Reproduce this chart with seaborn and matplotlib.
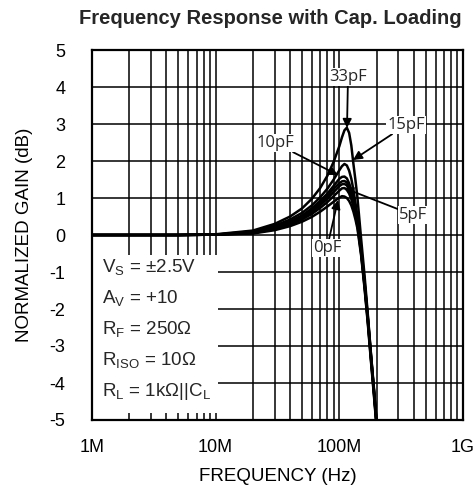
import numpy as np
import pandas as pd
import matplotlib
matplotlib.use("Agg")
import matplotlib.pyplot as plt
import seaborn as sns
from matplotlib.ticker import LogLocator, NullFormatter, FixedLocator

# ---- data ----
freq_mhz = [1, 5, 10, 20, 30, 40, 50, 60, 70, 80, 90, 100, 105, 110, 115,
            120, 125, 130, 135, 140, 150, 160, 170, 180, 190, 200, 210]

gain_0pF = [0, 0, 0.01, 0.04, 0.13, 0.24, 0.36, 0.49, 0.63, 0.77, 0.90, 1.01, 1.05, 1.04, 1.00,
            0.92, 0.80, 0.63, 0.42, 0.18, -0.55, -1.45, -2.40, -3.40, -4.30, -5.20, -6.0]
gain_2pF = [0, 0, 0.01, 0.05, 0.16, 0.28, 0.42, 0.57, 0.73, 0.89, 1.05, 1.20, 1.26, 1.27, 1.22,
            1.12, 0.97, 0.77, 0.52, 0.25, -0.50, -1.40, -2.35, -3.35, -4.25, -5.15, -6.0]
gain_5pF = [0, 0, 0.01, 0.06, 0.18, 0.31, 0.46, 0.62, 0.80, 0.98, 1.16, 1.32, 1.37, 1.38, 1.34,
            1.23, 1.07, 0.86, 0.60, 0.32, -0.45, -1.35, -2.30, -3.30, -4.20, -5.10, -6.0]
gain_7pF = [0, 0, 0.01, 0.07, 0.20, 0.34, 0.50, 0.67, 0.86, 1.05, 1.25, 1.40, 1.45, 1.46, 1.42,
            1.31, 1.14, 0.92, 0.65, 0.36, -0.42, -1.32, -2.27, -3.27, -4.17, -5.07, -6.0]
gain_10pF = [0, 0, 0.01, 0.08, 0.22, 0.37, 0.53, 0.72, 0.92, 1.12, 1.33, 1.52, 1.57, 1.58, 1.53,
             1.40, 1.22, 0.98, 0.70, 0.40, -0.40, -1.30, -2.25, -3.25, -4.15, -5.05, -6.0]
gain_15pF = [0, 0, 0.01, 0.10, 0.25, 0.42, 0.60, 0.80, 1.02, 1.25, 1.50, 1.75, 1.86, 1.92, 1.88,
             1.74, 1.52, 1.22, 0.87, 0.52, -0.35, -1.25, -2.20, -3.20, -4.10, -5.00, -6.0]
gain_33pF = [0, 0, 0.02, 0.12, 0.30, 0.50, 0.72, 0.98, 1.27, 1.60, 1.98, 2.40, 2.64, 2.83, 2.90,
             2.76, 2.42, 1.92, 1.48, 1.02, -0.10, -1.10, -2.15, -3.20, -4.15, -5.10, -6.0]

series = {"0pF": gain_0pF, "2pF": gain_2pF, "5pF": gain_5pF, "7pF": gain_7pF,
          "10pF": gain_10pF, "15pF": gain_15pF, "33pF": gain_33pF}

x_ticks = [1e6, 1e7, 1e8, 1e9]
x_tick_labels = ["1M", "10M", "100M", "1G"]
y_ticks = list(range(-5, 6))

conditions = [r"V$_\mathrm{S}$ = ±2.5V", r"A$_\mathrm{V}$ = +10", r"R$_\mathrm{F}$ = 250Ω",
              r"R$_\mathrm{ISO}$ = 10Ω", r"R$_\mathrm{L}$ = 1kΩ||C$_\mathrm{L}$"]

rows = []
for name, vals in series.items():
    for f, g in zip(freq_mhz, vals):
        rows.append({"freq": f * 1e6, "gain": g, "CL": name})
df = pd.DataFrame(rows)

# ---- styling ----
sns.set_theme(style="white")
plt.rcParams["font.family"] = ["Liberation Sans", "DejaVu Sans"]
plt.rcParams["mathtext.fontset"] = "custom"
plt.rcParams["mathtext.rm"] = "Liberation Sans"
plt.rcParams["mathtext.it"] = "Liberation Sans"

fig = plt.figure(figsize=(4.77, 4.91), dpi=100)
ax = fig.add_axes([92 / 477, 1 - 420 / 491, (463 - 92) / 477, (420 - 50) / 491])

sns.lineplot(data=df, x="freq", y="gain", hue="CL", palette=["black"] * len(series),
             linewidth=1.8, legend=False, ax=ax, sort=False, zorder=3)

ax.set_xscale("log")
ax.set_xlim(1e6, 1e9)
ax.set_ylim(-5, 5)
ax.xaxis.set_major_locator(FixedLocator(x_ticks))
ax.set_xticklabels(x_tick_labels)
ax.xaxis.set_minor_locator(LogLocator(base=10, subs=np.arange(2, 10)))
ax.xaxis.set_minor_formatter(NullFormatter())
ax.set_yticks(y_ticks)
ax.set_yticklabels([str(v) for v in y_ticks])
ax.grid(True, which="both", axis="x", color="black", linewidth=1.1)
ax.grid(True, which="major", axis="y", color="black", linewidth=1.1)
ax.set_axisbelow(True)
ax.tick_params(axis="both", which="both", length=0, labelsize=13, colors="black")
ax.tick_params(axis="y", pad=19)
ax.tick_params(axis="x", pad=14)
for s in ax.spines.values():
    s.set_color("black")
    s.set_linewidth(1.6)

ax.set_xlabel("FREQUENCY (Hz)", fontsize=13.5, labelpad=8, color="black")
ax.set_ylabel("NORMALIZED GAIN (dB)", fontsize=13.5, labelpad=12, color="black")
fig.text(270 / 477, 1 - 18 / 491, "Frequency Response with Cap. Loading",
         fontsize=14.5, fontweight="bold", ha="center", va="center")

# condition box
ax.add_patch(plt.Rectangle((0, 0.02), (218 - 92) / 371, (413 - 255) / 370,
                           transform=ax.transAxes, facecolor="white", edgecolor="none", zorder=2))
cond_y = [267, 298, 329, 360, 392]
for txt, yp in zip(conditions, cond_y):
    ax.text(10 / 371, (420 - yp) / 370, txt, transform=ax.transAxes, fontsize=13.5,
            ha="left", va="center", zorder=4)

# annotations
lab_font = dict(fontsize=12, family=["Open Sans", "DejaVu Sans"], zorder=5,
                bbox=dict(facecolor="white", edgecolor="none", pad=0.8))
arrow = dict(arrowstyle="-|>", color="black", lw=1.3, mutation_scale=13, shrinkA=0, shrinkB=0)

def px(x, y):
    return (x - 92) / 371, (420 - y) / 370

ax.annotate("33pF", xy=px(347, 128), xytext=px(348, 77), textcoords="axes fraction",
            xycoords="axes fraction", ha="center", va="center", arrowprops=arrow, **lab_font)
ax.annotate("15pF", xy=px(353, 160), xytext=px(406, 125), textcoords="axes fraction",
            xycoords="axes fraction", ha="center", va="center", arrowprops=arrow, **lab_font)
ax.annotate("10pF", xy=px(338, 175), xytext=px(275, 143), textcoords="axes fraction",
            xycoords="axes fraction", ha="center", va="center", arrowprops=arrow, **lab_font)
ax.annotate("5pF", xy=px(344, 188), xytext=px(413, 215), textcoords="axes fraction",
            xycoords="axes fraction", ha="center", va="center", arrowprops=arrow, **lab_font)
ax.annotate("0pF", xy=px(338, 200), xytext=px(327, 248), textcoords="axes fraction",
            xycoords="axes fraction", ha="center", va="center", arrowprops=arrow, **lab_font)

fig.savefig("out.png", dpi=100)
